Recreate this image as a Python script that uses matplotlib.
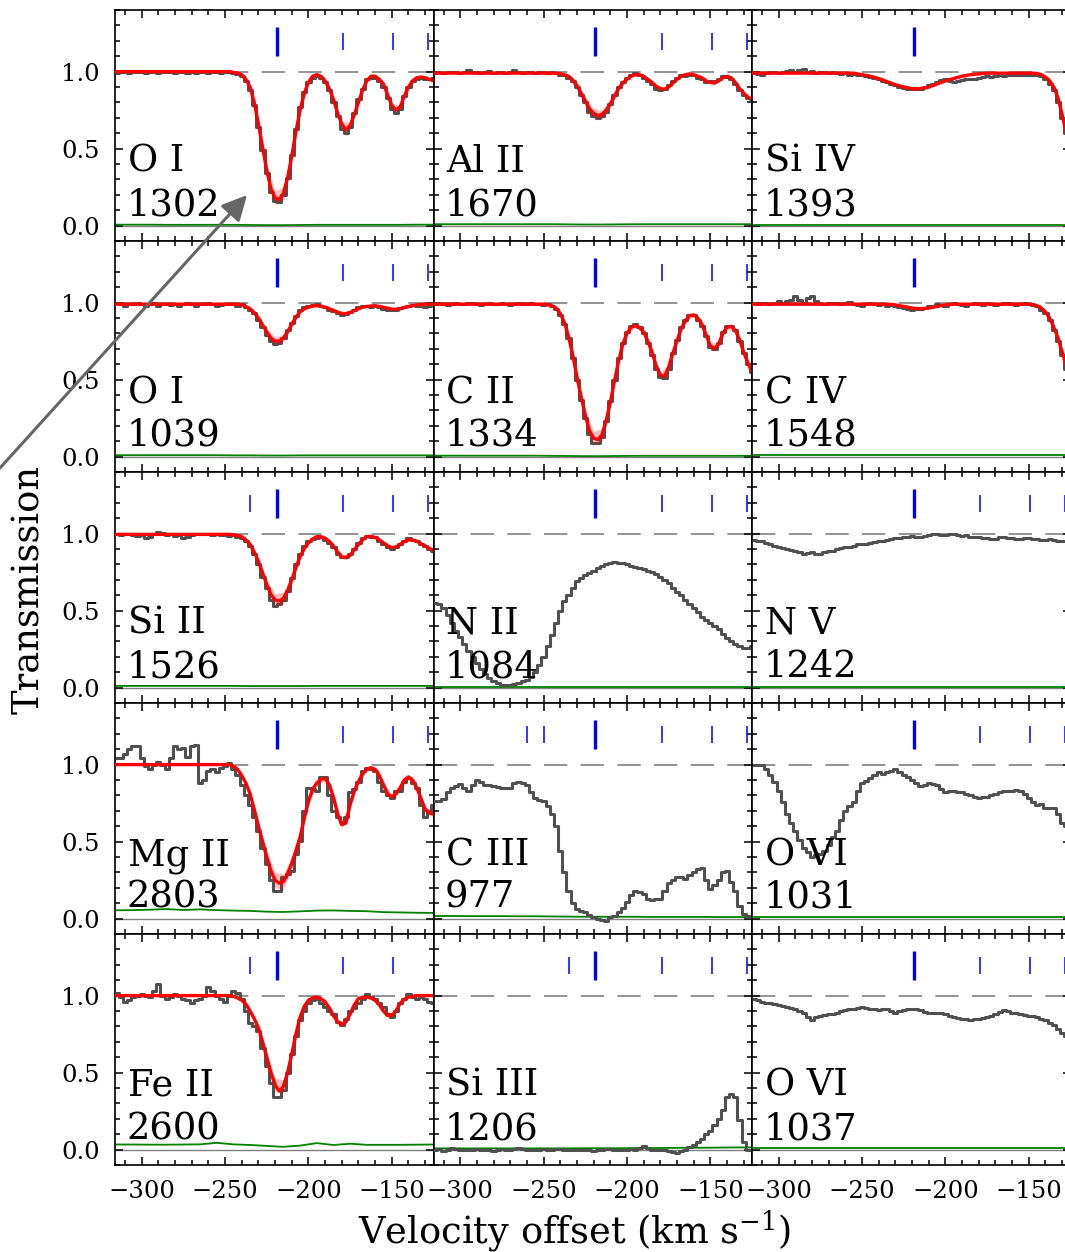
import matplotlib.pyplot as plt
import numpy as np
from matplotlib.ticker import MultipleLocator
from matplotlib.patches import FancyArrowPatch

plt.rcParams['font.family'] = 'DejaVu Serif'
plt.rcParams['mathtext.fontset'] = 'dejavuserif'

# velocity grids (km/s): spectra + fits, fit uncertainties, error spectra
vel = np.arange(-315, -124, 2.5)
evel = np.arange(-315, -124, 5)
sig_vel = np.arange(-315, -124, 10)

# component positions (km/s)
v_main = -219

# ---- O I 1302
oi1302_flux = [0.99, 1.0, 0.995, 0.99, 1.0, 0.995, 1.0, 0.99, 0.995, 1.0,
               0.99, 0.995, 1.0, 1.0, 0.99, 0.995, 1.0, 0.99, 0.995, 0.99,
               1.0, 0.995, 0.99, 1.0, 0.995, 0.99, 1.0, 0.995,
               0.99, 0.985, 0.97, 0.94, 0.88, 0.78, 0.64, 0.49, 0.34, 0.22,
               0.16, 0.15, 0.2, 0.31, 0.46, 0.63, 0.77, 0.87, 0.93, 0.96,
               0.97, 0.96, 0.93, 0.88, 0.8, 0.71, 0.63, 0.6, 0.64, 0.73,
               0.82, 0.89, 0.95, 0.96, 0.96, 0.94, 0.9, 0.83, 0.76, 0.73,
               0.76, 0.84, 0.9, 0.94, 0.95, 0.96, 0.95, 0.95, 0.96]
oi1302_model = [1.0, 1.0, 1.0, 1.0, 1.0, 1.0, 1.0, 1.0, 1.0, 1.0,
                1.0, 1.0, 1.0, 1.0, 1.0, 1.0, 1.0, 1.0, 1.0, 1.0,
                1.0, 1.0, 1.0, 1.0, 1.0, 1.0, 1.0, 1.0,
                0.995, 0.99, 0.98, 0.95, 0.9, 0.8, 0.66, 0.51, 0.36, 0.24,
                0.18, 0.17, 0.21, 0.31, 0.45, 0.61, 0.75, 0.86, 0.93, 0.97,
                0.98, 0.97, 0.94, 0.89, 0.82, 0.73, 0.66, 0.62, 0.65, 0.72,
                0.8, 0.88, 0.94, 0.97, 0.97, 0.95, 0.92, 0.85, 0.78, 0.75,
                0.77, 0.84, 0.9, 0.94, 0.96, 0.965, 0.96, 0.95, 0.94]
oi1302_err = [0.003, 0.003, 0.003, 0.003, 0.003, 0.003, 0.003, 0.003, 0.003, 0.003,
              0.003, 0.003, 0.003, 0.003, 0.004, 0.006, 0.012, 0.02, 0.03, 0.045,
              0.04, 0.03, 0.02, 0.01, 0.006, 0.008, 0.012, 0.018, 0.018, 0.012,
              0.006, 0.005, 0.008, 0.012, 0.012, 0.008, 0.005, 0.005, 0.005]
oi1302_sig = [0.006, 0.006, 0.006, 0.005, 0.005, 0.005, 0.005, 0.005, 0.004, 0.003,
              0.003, 0.004, 0.005, 0.005, 0.005, 0.005, 0.005, 0.005, 0.006, 0.006]

# ---- Al II 1670
alii_flux = [0.99, 1.0, 0.99, 0.995, 1.0, 1.0, 0.99, 1.0, 1.01, 1.0,
             0.995, 0.99, 1.0, 1.005, 0.99, 1.0, 0.995, 0.99, 1.0, 1.01,
             1.0, 0.99, 0.995, 1.0, 0.99, 1.0, 0.995, 0.99,
             1.0, 0.99, 0.98, 0.98, 0.96, 0.94, 0.9, 0.85, 0.8, 0.74,
             0.71, 0.7, 0.71, 0.74, 0.79, 0.85, 0.9, 0.93, 0.96, 0.98,
             0.99, 0.98, 0.96, 0.94, 0.92, 0.89, 0.88, 0.885, 0.91, 0.94,
             0.96, 0.98, 0.97, 0.975, 0.98, 0.96, 0.95, 0.935, 0.94, 0.94,
             0.955, 0.97, 0.965, 0.95, 0.92, 0.88, 0.85, 0.83, 0.82]
alii_model = [0.99, 0.99, 0.99, 0.99, 0.99, 0.99, 0.99, 0.99, 0.99, 0.99,
              0.99, 0.99, 0.99, 0.99, 0.99, 0.99, 0.99, 0.99, 0.99, 0.99,
              0.99, 0.99, 0.99, 0.99, 0.99, 0.99, 0.99, 0.99,
              0.99, 0.99, 0.985, 0.98, 0.97, 0.945, 0.91, 0.86, 0.81, 0.76,
              0.73, 0.715, 0.72, 0.75, 0.79, 0.84, 0.89, 0.925, 0.95, 0.97,
              0.98, 0.98, 0.97, 0.95, 0.93, 0.905, 0.89, 0.885, 0.9, 0.925,
              0.95, 0.97, 0.98, 0.985, 0.98, 0.97, 0.96, 0.94, 0.93, 0.925,
              0.94, 0.96, 0.97, 0.96, 0.93, 0.89, 0.86, 0.835, 0.82]
alii_err = [0.003, 0.003, 0.003, 0.003, 0.003, 0.003, 0.003, 0.003, 0.003, 0.003,
            0.003, 0.003, 0.003, 0.003, 0.004, 0.006, 0.012, 0.02, 0.028, 0.032,
            0.028, 0.02, 0.012, 0.006, 0.004, 0.005, 0.008, 0.01, 0.01, 0.006,
            0.004, 0.004, 0.005, 0.006, 0.006, 0.005, 0.006, 0.008, 0.01]
alii_sig = [0.009, 0.009, 0.009, 0.009, 0.009, 0.009, 0.009, 0.009, 0.008, 0.007,
            0.007, 0.008, 0.009, 0.009, 0.009, 0.009, 0.009, 0.009, 0.009, 0.009]

# ---- Si IV 1393
siiv_flux = [0.99, 0.985, 0.98, 0.99, 0.995, 1.0, 0.99, 1.0, 1.005, 1.01,
             1.0, 1.01, 1.015, 1.0, 1.005, 0.99, 1.0, 0.995, 0.99, 1.0,
             0.99, 0.985, 0.99, 0.98, 0.985, 0.98, 0.975, 0.97,
             0.965, 0.96, 0.95, 0.94, 0.93, 0.92, 0.91, 0.9, 0.895, 0.89,
             0.885, 0.885, 0.89, 0.9, 0.91, 0.92, 0.93, 0.945, 0.95, 0.94,
             0.935, 0.94, 0.945, 0.95, 0.95, 0.955, 0.96, 0.965, 0.97, 0.965,
             0.97, 0.975, 0.97, 0.975, 0.98, 0.975, 0.98, 0.98, 0.975, 0.98,
             0.98, 0.97, 0.95, 0.92, 0.88, 0.8, 0.7, 0.6, 0.48]
siiv_model = [0.99, 0.99, 0.99, 0.99, 0.99, 0.99, 0.99, 0.99, 0.99, 0.99,
              0.99, 0.99, 0.99, 0.99, 0.99, 0.99, 0.99, 0.99, 0.99, 0.99,
              0.99, 0.99, 0.99, 0.99, 0.99, 0.985, 0.98, 0.975,
              0.97, 0.963, 0.955, 0.945, 0.935, 0.925, 0.915, 0.907, 0.9, 0.894,
              0.89, 0.888, 0.89, 0.894, 0.9, 0.91, 0.92, 0.93, 0.94, 0.948,
              0.955, 0.963, 0.97, 0.975, 0.98, 0.983, 0.985, 0.988, 0.99, 0.99,
              0.99, 0.99, 0.99, 0.99, 0.99, 0.99, 0.99, 0.99, 0.99, 0.99,
              0.988, 0.98, 0.965, 0.94, 0.9, 0.83, 0.72, 0.6, 0.48]
siiv_err = [0.002, 0.002, 0.002, 0.002, 0.002, 0.002, 0.002, 0.002, 0.002, 0.002,
            0.002, 0.002, 0.003, 0.004, 0.005, 0.006, 0.008, 0.01, 0.011, 0.012,
            0.012, 0.011, 0.01, 0.008, 0.006, 0.005, 0.004, 0.003, 0.003, 0.003,
            0.003, 0.003, 0.003, 0.003, 0.004, 0.006, 0.01, 0.015, 0.02]
siiv_sig = [0.007, 0.007, 0.007, 0.007, 0.007, 0.007, 0.007, 0.007, 0.007, 0.007,
            0.007, 0.007, 0.007, 0.007, 0.007, 0.007, 0.007, 0.007, 0.007, 0.007]

# ---- O I 1039
oi1039_flux = [1.0, 0.99, 0.98, 0.99, 0.99, 1.0, 0.99, 0.98, 0.99, 1.0,
               0.98, 0.99, 0.99, 0.985, 0.99, 0.98, 0.99, 1.0, 0.99, 0.98,
               0.99, 0.99, 1.0, 0.99, 0.98, 0.985, 0.99, 0.99,
               0.99, 0.98, 0.99, 0.97, 0.95, 0.93, 0.89, 0.84, 0.79, 0.75,
               0.73, 0.74, 0.77, 0.82, 0.87, 0.91, 0.95, 0.97, 0.98, 0.985,
               0.99, 0.98, 0.97, 0.955, 0.945, 0.93, 0.92, 0.925, 0.94, 0.955,
               0.97, 0.975, 0.98, 0.97, 0.975, 0.97, 0.96, 0.955, 0.95, 0.955,
               0.965, 0.97, 0.98, 0.985, 0.98, 0.975, 0.97, 0.98, 0.99]
oi1039_model = [0.99, 0.99, 0.99, 0.99, 0.99, 0.99, 0.99, 0.99, 0.99, 0.99,
                0.99, 0.99, 0.99, 0.99, 0.99, 0.99, 0.99, 0.99, 0.99, 0.99,
                0.99, 0.99, 0.99, 0.99, 0.99, 0.99, 0.99, 0.99,
                0.99, 0.99, 0.985, 0.975, 0.96, 0.935, 0.9, 0.855, 0.81, 0.77,
                0.75, 0.75, 0.77, 0.81, 0.86, 0.905, 0.94, 0.96, 0.97, 0.978,
                0.98, 0.977, 0.97, 0.96, 0.95, 0.938, 0.93, 0.928, 0.935, 0.948,
                0.96, 0.97, 0.975, 0.978, 0.98, 0.975, 0.97, 0.963, 0.958, 0.957,
                0.96, 0.968, 0.975, 0.98, 0.985, 0.988, 0.99, 0.99, 0.99]
oi1039_err = [0.003, 0.003, 0.003, 0.003, 0.003, 0.003, 0.003, 0.003, 0.003, 0.003,
              0.003, 0.003, 0.003, 0.003, 0.004, 0.006, 0.01, 0.016, 0.022, 0.026,
              0.024, 0.018, 0.01, 0.006, 0.004, 0.005, 0.006, 0.008, 0.008, 0.006,
              0.004, 0.004, 0.005, 0.005, 0.005, 0.004, 0.003, 0.003, 0.003]
oi1039_sig = [0.009, 0.009, 0.009, 0.009, 0.009, 0.009, 0.009, 0.008, 0.008, 0.007,
              0.007, 0.008, 0.008, 0.008, 0.008, 0.008, 0.008, 0.008, 0.008, 0.008]

# ---- C II 1334
cii_flux = [0.99, 1.0, 0.99, 0.985, 0.99, 1.0, 0.99, 0.99, 1.0, 0.995,
            0.99, 0.985, 0.99, 1.0, 0.99, 0.99, 1.0, 0.99, 0.985, 0.99,
            1.0, 0.99, 0.99, 1.0, 0.99, 0.99, 0.985, 0.99,
            0.98, 0.96, 0.92, 0.86, 0.77, 0.64, 0.5, 0.37, 0.25, 0.15,
            0.09, 0.09, 0.13, 0.23, 0.36, 0.5, 0.64, 0.74, 0.81, 0.85,
            0.86, 0.84, 0.8, 0.74, 0.66, 0.57, 0.52, 0.51, 0.57, 0.67,
            0.76, 0.84, 0.89, 0.92, 0.92, 0.89, 0.85, 0.78, 0.71, 0.7,
            0.74, 0.81, 0.85, 0.85, 0.82, 0.75, 0.67, 0.6, 0.55]
cii_model = [0.99, 0.99, 0.99, 0.99, 0.99, 0.99, 0.99, 0.99, 0.99, 0.99,
             0.99, 0.99, 0.99, 0.99, 0.99, 0.99, 0.99, 0.99, 0.99, 0.99,
             0.99, 0.99, 0.99, 0.99, 0.99, 0.99, 0.99, 0.987,
             0.98, 0.965, 0.93, 0.87, 0.78, 0.66, 0.52, 0.39, 0.27, 0.17,
             0.12, 0.11, 0.14, 0.23, 0.35, 0.49, 0.62, 0.73, 0.8, 0.84,
             0.85, 0.84, 0.81, 0.75, 0.68, 0.59, 0.53, 0.52, 0.58, 0.67,
             0.75, 0.83, 0.88, 0.915, 0.92, 0.9, 0.86, 0.79, 0.72, 0.7,
             0.73, 0.8, 0.84, 0.845, 0.82, 0.76, 0.68, 0.61, 0.55]
cii_err = [0.003, 0.003, 0.003, 0.003, 0.003, 0.003, 0.003, 0.003, 0.003, 0.003,
           0.003, 0.003, 0.003, 0.003, 0.004, 0.008, 0.015, 0.025, 0.035, 0.045,
           0.04, 0.03, 0.02, 0.012, 0.01, 0.012, 0.015, 0.018, 0.016, 0.012,
           0.01, 0.01, 0.012, 0.015, 0.015, 0.012, 0.012, 0.015, 0.018]
cii_sig = [0.006, 0.006, 0.006, 0.006, 0.006, 0.006, 0.006, 0.005, 0.004, 0.003,
           0.003, 0.004, 0.005, 0.005, 0.005, 0.005, 0.005, 0.005, 0.005, 0.005]

# ---- C IV 1548
civ_flux = [1.0, 0.99, 0.995, 1.0, 0.99, 1.0, 1.01, 1.0, 1.01, 1.02,
            1.04, 1.02, 1.0, 1.03, 1.04, 1.01, 1.0, 0.99, 1.0, 0.995,
            1.0, 0.99, 1.0, 1.005, 0.99, 0.985, 0.98, 0.99,
            1.0, 0.99, 0.985, 0.99, 0.98, 0.985, 0.975, 0.97, 0.965, 0.96,
            0.955, 0.96, 0.96, 0.965, 0.975, 0.98, 0.99, 0.985, 0.98, 0.99,
            1.0, 0.99, 0.985, 0.98, 0.99, 0.995, 0.99, 0.985, 1.0, 0.99,
            0.985, 0.99, 0.995, 1.0, 0.99, 0.985, 0.99, 1.0, 0.99, 0.985,
            0.975, 0.955, 0.93, 0.89, 0.82, 0.75, 0.66, 0.57, 0.48]
civ_model = [0.99, 0.99, 0.99, 0.99, 0.99, 0.99, 0.99, 0.99, 0.99, 0.99,
             0.99, 0.99, 0.99, 0.99, 0.99, 0.99, 0.99, 0.99, 0.99, 0.99,
             0.99, 0.99, 0.99, 0.99, 0.99, 0.99, 0.99, 0.99,
             0.99, 0.99, 0.99, 0.99, 0.99, 0.988, 0.985, 0.98, 0.975, 0.97,
             0.965, 0.962, 0.96, 0.962, 0.965, 0.97, 0.975, 0.98, 0.985, 0.988,
             0.99, 0.99, 0.99, 0.99, 0.99, 0.99, 0.99, 0.99, 0.99, 0.99,
             0.99, 0.99, 0.99, 0.99, 0.99, 0.99, 0.99, 0.99, 0.99, 0.988,
             0.98, 0.965, 0.94, 0.9, 0.84, 0.77, 0.68, 0.59, 0.5]
civ_err = [0.003, 0.003, 0.003, 0.003, 0.003, 0.003, 0.003, 0.003, 0.003, 0.003,
           0.003, 0.003, 0.003, 0.003, 0.003, 0.003, 0.004, 0.005, 0.006, 0.007,
           0.007, 0.006, 0.005, 0.004, 0.003, 0.003, 0.003, 0.003, 0.003, 0.003,
           0.003, 0.003, 0.003, 0.003, 0.004, 0.008, 0.014, 0.02, 0.025]
civ_sig = [0.01, 0.01, 0.01, 0.01, 0.01, 0.01, 0.01, 0.01, 0.01, 0.01,
           0.01, 0.01, 0.01, 0.01, 0.01, 0.01, 0.01, 0.01, 0.01, 0.01]

# ---- Si II 1526
siii_flux = [1.0, 0.99, 0.995, 1.0, 0.99, 0.985, 0.99, 0.97, 0.98, 1.0,
             1.01, 1.005, 0.99, 0.995, 0.985, 0.99, 0.97, 0.975, 0.99, 1.0,
             1.0, 0.995, 1.0, 0.99, 0.995, 0.99, 0.99, 0.985,
             0.99, 0.98, 0.97, 0.95, 0.92, 0.87, 0.8, 0.72, 0.65, 0.57,
             0.53, 0.54, 0.57, 0.63, 0.71, 0.8, 0.87, 0.92, 0.95, 0.965,
             0.97, 0.975, 0.96, 0.94, 0.91, 0.87, 0.85, 0.85, 0.87, 0.9,
             0.94, 0.97, 0.985, 0.98, 0.975, 0.955, 0.935, 0.915, 0.9, 0.91,
             0.935, 0.955, 0.97, 0.96, 0.95, 0.93, 0.92, 0.9, 0.89]
siii_model = [0.995, 0.995, 0.995, 0.995, 0.995, 0.995, 0.995, 0.995, 0.995, 0.995,
              0.995, 0.995, 0.995, 0.995, 0.995, 0.995, 0.995, 0.995, 0.995, 0.995,
              0.995, 0.995, 0.995, 0.995, 0.995, 0.995, 0.995, 0.995,
              0.993, 0.988, 0.98, 0.96, 0.93, 0.88, 0.82, 0.745, 0.67, 0.605,
              0.57, 0.562, 0.58, 0.63, 0.7, 0.78, 0.85, 0.905, 0.94, 0.965,
              0.98, 0.98, 0.97, 0.95, 0.92, 0.88, 0.85, 0.843, 0.86, 0.895,
              0.93, 0.96, 0.98, 0.982, 0.975, 0.96, 0.94, 0.92, 0.91, 0.912,
              0.93, 0.948, 0.96, 0.958, 0.95, 0.935, 0.92, 0.905, 0.89]
siii_err = [0.003, 0.003, 0.003, 0.003, 0.003, 0.003, 0.003, 0.003, 0.003, 0.003,
            0.003, 0.003, 0.003, 0.003, 0.004, 0.007, 0.014, 0.022, 0.032, 0.04,
            0.038, 0.028, 0.016, 0.008, 0.005, 0.006, 0.01, 0.014, 0.013, 0.009,
            0.005, 0.005, 0.008, 0.01, 0.009, 0.006, 0.006, 0.008, 0.01]
siii_sig = [0.011, 0.011, 0.011, 0.011, 0.011, 0.011, 0.011, 0.011, 0.01, 0.01,
            0.01, 0.01, 0.011, 0.011, 0.011, 0.011, 0.011, 0.011, 0.011, 0.011]

# ---- N II 1084 (no fit)
nii_flux = [0.55, 0.54, 0.52, 0.47, 0.42, 0.37, 0.33, 0.28, 0.24, 0.2,
            0.16, 0.12, 0.09, 0.06, 0.04, 0.03, 0.02, 0.02, 0.02, 0.025,
            0.03, 0.04, 0.05, 0.07, 0.1, 0.15, 0.2, 0.27, 0.34, 0.42,
            0.5, 0.56, 0.6, 0.65, 0.69, 0.71, 0.73, 0.745, 0.76, 0.775,
            0.79, 0.8, 0.81, 0.815, 0.81, 0.81, 0.8, 0.79, 0.78, 0.775,
            0.77, 0.76, 0.75, 0.735, 0.72, 0.7, 0.68, 0.65, 0.62, 0.6,
            0.57, 0.545, 0.52, 0.49, 0.46, 0.44, 0.42, 0.4, 0.38, 0.35,
            0.32, 0.3, 0.28, 0.27, 0.26, 0.26, 0.27]
nii_sig = [0.005, 0.005, 0.005, 0.005, 0.005, 0.005, 0.005, 0.005, 0.005, 0.005,
           0.005, 0.005, 0.005, 0.005, 0.005, 0.005, 0.005, 0.005, 0.005, 0.005]

# ---- N V 1242 (no fit)
nv_flux = [0.96, 0.955, 0.95, 0.94, 0.93, 0.92, 0.91, 0.905, 0.9, 0.895,
           0.89, 0.88, 0.87, 0.875, 0.88, 0.87, 0.87, 0.88, 0.89, 0.885,
           0.9, 0.905, 0.91, 0.915, 0.92, 0.93, 0.935, 0.935, 0.94, 0.945,
           0.95, 0.955, 0.96, 0.965, 0.97, 0.97, 0.975, 0.98, 0.985, 0.98,
           0.98, 0.985, 0.99, 0.995, 1.0, 0.99, 0.99, 1.0, 1.0, 0.99,
           0.985, 0.99, 0.98, 0.975, 0.975, 0.97, 0.97, 0.965, 0.965, 0.975,
           0.975, 0.97, 0.97, 0.965, 0.965, 0.97, 0.97, 0.965, 0.965, 0.96,
           0.96, 0.965, 0.96, 0.955, 0.955, 0.95, 0.955]
nv_sig = [0.006, 0.006, 0.006, 0.006, 0.006, 0.006, 0.006, 0.006, 0.006, 0.006,
          0.006, 0.006, 0.006, 0.006, 0.006, 0.006, 0.006, 0.006, 0.006, 0.006]

# ---- Mg II 2803
mgii_flux = [1.04, 1.04, 1.07, 1.1, 1.12, 1.12, 1.04, 0.99, 0.97, 1.0,
             1.02, 1.0, 0.97, 1.04, 1.12, 1.1, 1.11, 1.05, 1.12, 1.13,
             0.88, 0.9, 0.96, 0.97, 0.95, 0.98, 0.99, 1.01,
             0.97, 0.93, 0.87, 0.8, 0.74, 0.66, 0.57, 0.46, 0.355, 0.25,
             0.18, 0.18, 0.27, 0.29, 0.31, 0.42, 0.505, 0.7, 0.85, 0.84,
             0.83, 0.92, 0.92, 0.8, 0.7, 0.66, 0.63, 0.66, 0.82, 0.84,
             0.89, 0.96, 0.98, 0.97, 0.96, 0.89, 0.83, 0.8, 0.785, 0.83,
             0.83, 0.89, 0.91, 0.88, 0.85, 0.74, 0.66, 0.7, 0.74]
mgii_model = [1.0, 1.0, 1.0, 1.0, 1.0, 1.0, 1.0, 1.0, 1.0, 1.0,
              1.0, 1.0, 1.0, 1.0, 1.0, 1.0, 1.0, 1.0, 1.0, 1.0,
              1.0, 1.0, 1.0, 1.0, 1.0, 1.0, 1.0, 1.0,
              0.99, 0.97, 0.93, 0.88, 0.81, 0.71, 0.6, 0.5, 0.4, 0.31,
              0.25, 0.23, 0.24, 0.29, 0.36, 0.44, 0.53, 0.65, 0.76, 0.84,
              0.88, 0.905, 0.91, 0.87, 0.79, 0.68, 0.61, 0.62, 0.74, 0.83,
              0.89, 0.94, 0.97, 0.98, 0.97, 0.93, 0.87, 0.81, 0.79, 0.81,
              0.85, 0.9, 0.92, 0.9, 0.85, 0.78, 0.71, 0.685, 0.68]
mgii_err = [0.005, 0.005, 0.005, 0.005, 0.005, 0.005, 0.005, 0.005, 0.005, 0.005,
            0.005, 0.005, 0.005, 0.005, 0.006, 0.01, 0.02, 0.03, 0.04, 0.05,
            0.05, 0.04, 0.03, 0.02, 0.012, 0.014, 0.02, 0.025, 0.022, 0.015,
            0.01, 0.01, 0.014, 0.018, 0.016, 0.012, 0.014, 0.02, 0.022]
mgii_sig = [0.054, 0.055, 0.058, 0.062, 0.056, 0.06, 0.055, 0.052, 0.05, 0.045,
            0.043, 0.047, 0.052, 0.053, 0.05, 0.048, 0.042, 0.04, 0.038, 0.037]

# ---- C III 977 (no fit)
ciii_flux = [0.765, 0.765, 0.775, 0.82, 0.85, 0.86, 0.875, 0.85, 0.83, 0.87,
             0.9, 0.89, 0.87, 0.865, 0.86, 0.855, 0.85, 0.845, 0.85, 0.88,
             0.89, 0.88, 0.87, 0.82, 0.785, 0.77, 0.765, 0.73, 0.68, 0.6,
             0.44, 0.3, 0.18, 0.1, 0.065, 0.05, 0.043, 0.025, 0.01, 0.0,
             -0.01, -0.015, 0.01, 0.02, 0.04, 0.07, 0.11, 0.15, 0.18, 0.17,
             0.16, 0.13, 0.12, 0.125, 0.13, 0.18, 0.23, 0.25, 0.27, 0.27,
             0.26, 0.28, 0.3, 0.32, 0.33, 0.25, 0.19, 0.22, 0.25, 0.3,
             0.31, 0.24, 0.18, 0.08, 0.03, 0.015, 0.01]
ciii_sig = [0.017, 0.017, 0.016, 0.016, 0.016, 0.015, 0.015, 0.014, 0.013, 0.012,
            0.012, 0.012, 0.012, 0.011, 0.011, 0.011, 0.011, 0.01, 0.01, 0.01]

# ---- O VI 1031 (no fit)
ovi1031_flux = [1.0, 1.0, 1.0, 0.97, 0.935, 0.89, 0.83, 0.76, 0.68, 0.62,
                0.57, 0.51, 0.46, 0.43, 0.4, 0.41, 0.42, 0.44, 0.48, 0.53,
                0.57, 0.64, 0.7, 0.73, 0.76, 0.83, 0.88, 0.895, 0.91, 0.93,
                0.95, 0.94, 0.95, 0.96, 0.97, 0.955, 0.935, 0.92, 0.9, 0.88,
                0.86, 0.87, 0.88, 0.875, 0.87, 0.84, 0.82, 0.83, 0.83, 0.825,
                0.82, 0.81, 0.8, 0.79, 0.785, 0.79, 0.79, 0.8, 0.81, 0.82,
                0.83, 0.83, 0.83, 0.835, 0.83, 0.81, 0.785, 0.76, 0.74, 0.745,
                0.72, 0.72, 0.72, 0.68, 0.62, 0.6, 0.6]
ovi1031_sig = [0.008, 0.008, 0.008, 0.008, 0.008, 0.008, 0.008, 0.008, 0.008, 0.008,
               0.008, 0.008, 0.008, 0.008, 0.008, 0.008, 0.008, 0.008, 0.008, 0.008]

# ---- Fe II 2600
feii_flux = [1.02, 0.99, 0.96, 0.97, 0.99, 1.0, 1.01, 1.0, 0.99, 1.03,
             1.075, 1.0, 0.98, 0.99, 1.01, 1.0, 0.98, 0.97, 0.95, 0.97,
             0.98, 1.0, 1.055, 1.03, 1.0, 0.98, 0.96, 1.0,
             1.03, 1.02, 0.98, 0.9, 0.82, 0.8, 0.77, 0.66, 0.54, 0.43,
             0.34, 0.34, 0.39, 0.5, 0.62, 0.74, 0.84, 0.9, 0.95, 0.97,
             0.98, 0.95, 0.925, 0.9, 0.88, 0.83, 0.81, 0.85, 0.9, 0.92,
             0.95, 0.98, 1.01, 0.99, 0.98, 0.95, 0.925, 0.88, 0.86, 0.9,
             0.95, 0.98, 1.01, 0.99, 0.98, 0.99, 0.98, 0.96, 0.95]
feii_model = [1.0, 1.0, 1.0, 1.0, 1.0, 1.0, 1.0, 1.0, 1.0, 1.0,
              1.0, 1.0, 1.0, 1.0, 1.0, 1.0, 1.0, 1.0, 1.0, 1.0,
              1.0, 1.0, 1.0, 1.0, 1.0, 1.0, 1.0, 1.0,
              0.995, 0.985, 0.97, 0.945, 0.9, 0.85, 0.79, 0.7, 0.6, 0.5,
              0.42, 0.38, 0.41, 0.5, 0.62, 0.75, 0.86, 0.93, 0.97, 0.985,
              0.99, 0.98, 0.96, 0.92, 0.87, 0.83, 0.81, 0.83, 0.88, 0.94,
              0.98, 0.99, 0.99, 0.985, 0.97, 0.94, 0.9, 0.87, 0.87, 0.9,
              0.95, 0.975, 0.99, 0.995, 1.0, 1.0, 1.0, 1.0, 1.0]
feii_err = [0.004, 0.004, 0.004, 0.004, 0.004, 0.004, 0.004, 0.004, 0.004, 0.004,
            0.004, 0.004, 0.004, 0.004, 0.005, 0.008, 0.015, 0.025, 0.035, 0.045,
            0.042, 0.03, 0.015, 0.008, 0.006, 0.008, 0.012, 0.015, 0.012, 0.008,
            0.006, 0.006, 0.009, 0.012, 0.01, 0.006, 0.005, 0.005, 0.005]
feii_sig = [0.033, 0.033, 0.032, 0.032, 0.033, 0.034, 0.044, 0.034, 0.03, 0.024,
            0.018, 0.026, 0.042, 0.03, 0.038, 0.031, 0.031, 0.031, 0.032, 0.033]

# ---- Si III 1206 (no fit)
siiii_flux = [0.0, 0.005, -0.01, -0.005, 0.01, 0.005, 0.0, -0.005, -0.005, 0.0,
              0.005, 0.0, 0.0, -0.005, -0.01, 0.0, 0.005, 0.0, 0.0, 0.005,
              0.01, 0.005, 0.0, -0.005, -0.005, 0.0, 0.005, 0.0, 0.0, 0.005,
              0.005, 0.0, 0.0, -0.005, -0.005, 0.0, 0.0, -0.005, -0.01, -0.005,
              0.0, 0.005, 0.005, 0.0, -0.005, 0.0, 0.0, 0.005, 0.0, 0.01,
              0.025, 0.01, 0.0, 0.0, 0.0, -0.005, -0.01, -0.015, -0.02, -0.01,
              0.0, 0.015, 0.03, 0.05, 0.07, 0.1, 0.12, 0.16, 0.2, 0.26,
              0.34, 0.36, 0.34, 0.19, 0.05, 0.0, 0.0]
siiii_sig = [0.008, 0.008, 0.008, 0.008, 0.008, 0.008, 0.008, 0.008, 0.008, 0.009,
             0.009, 0.009, 0.01, 0.01, 0.011, 0.012, 0.012, 0.013, 0.014, 0.014]

# ---- O VI 1037 (no fit)
ovi1037_flux = [0.98, 0.97, 0.96, 0.955, 0.95, 0.945, 0.94, 0.93, 0.925, 0.92,
                0.915, 0.9, 0.89, 0.86, 0.84, 0.86, 0.87, 0.875, 0.88, 0.88,
                0.89, 0.9, 0.905, 0.91, 0.915, 0.92, 0.925, 0.92, 0.915, 0.91,
                0.905, 0.91, 0.91, 0.9, 0.89, 0.9, 0.905, 0.91, 0.915, 0.91,
                0.905, 0.895, 0.89, 0.89, 0.89, 0.885, 0.88, 0.87, 0.86, 0.855,
                0.85, 0.845, 0.84, 0.845, 0.85, 0.855, 0.86, 0.87, 0.88, 0.895,
                0.905, 0.9, 0.89, 0.885, 0.88, 0.875, 0.87, 0.865, 0.86, 0.85,
                0.84, 0.825, 0.81, 0.785, 0.76, 0.74, 0.72]
ovi1037_sig = [0.01, 0.01, 0.01, 0.01, 0.01, 0.01, 0.01, 0.01, 0.01, 0.01,
               0.01, 0.01, 0.01, 0.01, 0.01, 0.01, 0.01, 0.01, 0.01, 0.01]

# table of panels, row by row: ion, wavelength, flux, model, model error, error spectrum, extra components
panels = [
    ("O I", "1302", oi1302_flux, oi1302_model, oi1302_err, oi1302_sig, [-179, -149, -128]),
    ("Al II", "1670", alii_flux, alii_model, alii_err, alii_sig, [-179, -149, -128]),
    ("Si IV", "1393", siiv_flux, siiv_model, siiv_err, siiv_sig, []),
    ("O I", "1039", oi1039_flux, oi1039_model, oi1039_err, oi1039_sig, [-179, -149, -128]),
    ("C II", "1334", cii_flux, cii_model, cii_err, cii_sig, [-179, -149, -128]),
    ("C IV", "1548", civ_flux, civ_model, civ_err, civ_sig, []),
    ("Si II", "1526", siii_flux, siii_model, siii_err, siii_sig, [-235, -179, -149, -128]),
    ("N II", "1084", nii_flux, None, None, nii_sig, [-179, -149, -128]),
    ("N V", "1242", nv_flux, None, None, nv_sig, [-179, -149, -128]),
    ("Mg II", "2803", mgii_flux, mgii_model, mgii_err, mgii_sig, [-179, -149, -128]),
    ("C III", "977", ciii_flux, None, None, ciii_sig, [-260, -250, -179, -149, -128]),
    ("O VI", "1031", ovi1031_flux, None, None, ovi1031_sig, [-179, -149, -128]),
    ("Fe II", "2600", feii_flux, feii_model, feii_err, feii_sig, [-235, -179, -149]),
    ("Si III", "1206", siiii_flux, None, None, siiii_sig, [-235, -179, -149, -128]),
    ("O VI", "1037", ovi1037_flux, None, None, ovi1037_sig, [-179, -149, -128]),
]

W, H = 1065, 1252
fig = plt.figure(figsize=(W / 100, H / 100), dpi=100)
col_left = [115, 433.5, 752]
col_w = 318.5
row_top = [10, 241, 472, 703, 934]
row_h = 231

for k, (ion, wave, flux, model, merr, sig, comps) in enumerate(panels):
    r, c = divmod(k, 3)
    ax = fig.add_axes([col_left[c] / W, 1 - (row_top[r] + row_h) / H, col_w / W, row_h / H])

    ax.axhline(1.0, color='gray', lw=1.2, dashes=(14, 8), zorder=1)
    ax.axhline(0.0, color='gray', lw=1.0, zorder=1)
    ax.plot(sig_vel, sig, color='green', lw=1.3, zorder=2)
    ax.step(vel, flux, where='mid', color='#505050', lw=2.2, zorder=3)
    if model is not None:
        m = np.array(model)
        e = np.array(merr)
        ax.fill_between(evel, m[::2] - e, m[::2] + e, color='red', alpha=0.25, lw=0, zorder=4)
        ax.plot(vel, m, color='red', lw=2.4, zorder=5)

    ax.vlines(v_main, 1.10, 1.29, color='blue', lw=2.4, zorder=6)
    if comps:
        ax.vlines(comps, 1.14, 1.25, color='blue', lw=1.1, zorder=6)

    ax.text(0.04, (241 - 172) / 231, ion, transform=ax.transAxes, fontsize=26.5,
            ha='left', va='baseline', zorder=10)
    ax.text(0.035, (241 - 215) / 231, wave, transform=ax.transAxes, fontsize=26.5,
            ha='left', va='baseline', zorder=10)

    ax.set_xlim(-316, -125)
    ax.set_ylim(-0.1, 1.4)
    ax.xaxis.set_major_locator(MultipleLocator(50))
    ax.xaxis.set_minor_locator(MultipleLocator(10))
    ax.yaxis.set_major_locator(MultipleLocator(0.5))
    ax.yaxis.set_minor_locator(MultipleLocator(0.1))
    ax.yaxis.set_major_formatter(plt.FormatStrFormatter('%.1f'))
    ax.tick_params(which='both', direction='in', top=True, right=True, width=1.1,
                   labelsize=17.5, pad=11)
    ax.tick_params(which='major', length=6)
    ax.tick_params(which='minor', length=3.5)
    ax.tick_params(labelleft=(c == 0), labelbottom=(r == 4))
    for s in ax.spines.values():
        s.set_linewidth(1.2)

fig.text(29 / W, 1 - 590 / H, 'Transmission', rotation=90, fontsize=26.5,
         ha='center', va='center')
fig.text(575 / W, 1 - 1243 / H, 'Velocity offset (km s$^{-1}$)', fontsize=26.5,
         ha='center', va='baseline')

arrow = FancyArrowPatch((0, 1 - 468 / H), (247 / W, 1 - 195 / H), transform=fig.transFigure,
                        arrowstyle='-|>', mutation_scale=38, color='#666666', lw=2.2,
                        shrinkA=0, shrinkB=0, zorder=20)
fig.add_artist(arrow)

fig.savefig('out.png', dpi=100)
